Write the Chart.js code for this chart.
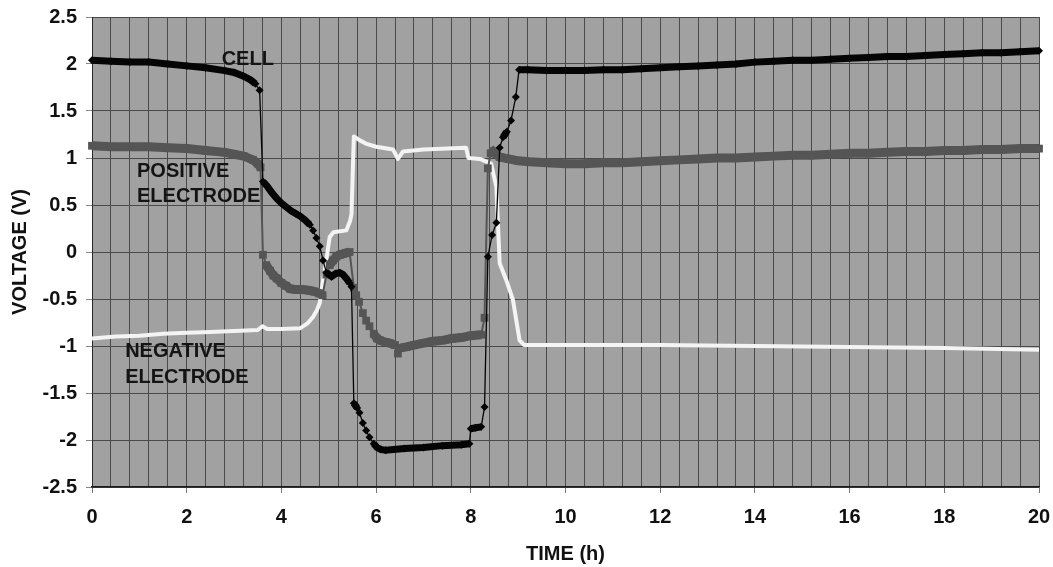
<!DOCTYPE html>
<html>
<head>
<meta charset="utf-8">
<script src="https://cdn.jsdelivr.net/npm/chart.js@4/dist/chart.umd.min.js"></script>
<style>
  body { margin: 0; background: #fff; }
  canvas { display: block; }
</style>
</head>
<body>
<canvas id="voltChart" width="1053" height="567"></canvas>
<script>
// time (h), voltage (V)
var cellData = [
  [0,2.04],[0.4,2.03],[0.8,2.02],[1.2,2.02],[1.6,2.00],[2.0,1.98],[2.4,1.96],[2.8,1.93],
  [3.0,1.91],[3.2,1.87],[3.35,1.83],[3.45,1.79],[3.54,1.72],[3.61,0.75],[3.7,0.70],[3.8,0.63],
  [3.9,0.57],[4.0,0.52],[4.1,0.48],[4.2,0.44],[4.3,0.41],[4.4,0.38],[4.5,0.34],[4.6,0.29],
  [4.67,0.23],[4.74,0.15],[4.81,0.06],[4.88,-0.09],[4.95,-0.22],[5.06,-0.26],[5.15,-0.23],
  [5.23,-0.22],[5.3,-0.24],[5.37,-0.28],[5.44,-0.33],[5.48,-0.37],[5.53,-1.61],[5.6,-1.66],
  [5.65,-1.71],[5.72,-1.82],[5.79,-1.90],[5.86,-1.97],[5.95,-2.04],[6.02,-2.08],[6.1,-2.10],
  [6.2,-2.11],[6.6,-2.09],[7.0,-2.08],[7.4,-2.06],[7.8,-2.05],[7.97,-2.04],[8.0,-1.88],
  [8.1,-1.87],[8.22,-1.86],[8.29,-1.65],[8.36,-0.05],[8.45,0.18],[8.54,0.31],[8.61,1.11],
  [8.68,1.22],[8.76,1.28],[8.85,1.40],[8.95,1.65],[9.02,1.94],[9.2,1.94],[9.6,1.93],[10,1.93],
  [10.4,1.93],[10.8,1.94],[11.2,1.94],[11.6,1.95],[12,1.96],[12.4,1.97],[12.8,1.98],[13.2,1.99],
  [13.6,2.00],[14,2.02],[14.4,2.03],[14.8,2.04],[15.2,2.04],[15.6,2.05],[16,2.06],[16.4,2.07],
  [16.8,2.08],[17.2,2.08],[17.6,2.09],[18,2.10],[18.4,2.11],[18.8,2.12],[19.2,2.12],[19.6,2.13],[20,2.14]
];
var positiveData = [
  [0,1.13],[0.4,1.12],[0.8,1.12],[1.2,1.12],[1.6,1.11],[2.0,1.10],[2.4,1.08],[2.8,1.06],
  [3.0,1.04],[3.2,1.02],[3.4,0.98],[3.5,0.94],[3.56,0.90],[3.61,-0.03],[3.68,-0.14],[3.76,-0.20],
  [3.83,-0.25],[3.9,-0.28],[4.0,-0.33],[4.1,-0.36],[4.18,-0.39],[4.3,-0.40],[4.45,-0.40],
  [4.6,-0.41],[4.7,-0.42],[4.8,-0.44],[4.87,-0.46],[4.95,-0.24],[5.02,-0.14],[5.09,-0.09],
  [5.16,-0.05],[5.23,-0.03],[5.3,-0.02],[5.37,-0.01],[5.44,0.00],[5.53,-0.38],[5.58,-0.46],
  [5.64,-0.53],[5.72,-0.65],[5.79,-0.73],[5.86,-0.79],[5.95,-0.87],[6.02,-0.92],[6.08,-0.94],
  [6.2,-0.96],[6.29,-0.97],[6.4,-0.99],[6.46,-1.08],[6.52,-1.02],[6.64,-1.01],[6.8,-0.99],
  [7.0,-0.97],[7.2,-0.95],[7.4,-0.94],[7.6,-0.92],[7.8,-0.91],[8.0,-0.89],[8.22,-0.88],
  [8.29,-0.70],[8.36,0.89],[8.42,1.05],[8.47,1.07],[8.54,1.04],[8.61,1.01],[8.8,0.99],
  [9.0,0.97],[9.24,0.96],[9.6,0.95],[10,0.94],[10.4,0.94],[10.8,0.95],[11.2,0.95],[11.6,0.96],
  [12,0.97],[12.4,0.98],[12.8,0.99],[13.2,1.00],[13.6,1.00],[14,1.01],[14.4,1.02],[14.8,1.03],
  [15.2,1.03],[15.6,1.04],[16,1.05],[16.4,1.05],[16.8,1.06],[17.2,1.07],[17.6,1.07],[18,1.08],
  [18.4,1.08],[18.8,1.09],[19.2,1.09],[19.6,1.10],[20,1.10]
];
var negativeData = [
  [0,-0.92],[0.5,-0.90],[1,-0.89],[1.5,-0.87],[2,-0.86],[2.5,-0.85],[3,-0.84],[3.5,-0.83],
  [3.6,-0.79],[3.7,-0.82],[4.0,-0.82],[4.4,-0.81],[4.55,-0.76],[4.67,-0.69],[4.75,-0.62],
  [4.81,-0.54],[4.88,-0.30],[4.95,-0.08],[5.02,0.16],[5.1,0.21],[5.37,0.23],[5.45,0.33],
  [5.48,0.40],[5.53,1.23],[5.65,1.19],[5.8,1.15],[6.0,1.12],[6.36,1.09],[6.46,0.99],[6.57,1.07],
  [7.0,1.09],[7.5,1.10],[7.9,1.11],[7.95,1.00],[8.19,0.99],[8.43,0.94],[8.54,0.69],[8.61,-0.12],
  [8.75,-0.30],[8.89,-0.51],[9.03,-0.94],[9.13,-0.99],[10,-0.99],[12,-0.99],[14,-1.00],[16,-1.01],[18,-1.02],[20,-1.04]
];
var xLabelTicks = [0, 2, 4, 6, 8, 10, 12, 14, 16, 18, 20];
var yTicks = [-2.5, -2, -1.5, -1, -0.5, 0, 0.5, 1, 1.5, 2, 2.5];

var FONT = '"Liberation Sans", Arial, sans-serif';

function pts(arr) {
  return arr.map(function(p) { return {x: p[0], y: p[1]}; });
}

// dense markers in the original merge into a thick band where the curve is not steep
function bandWidth(thick, thin) {
  return function(ctx) {
    var dx = Math.abs(ctx.p1.x - ctx.p0.x);
    var dy = Math.abs(ctx.p1.y - ctx.p0.y);
    return dy > 1.5 * dx ? thin : thick;
  };
}

var plotBg = {
  id: 'plotBg',
  beforeDraw: function(chart) {
    var a = chart.chartArea, c = chart.ctx;
    c.save();
    c.fillStyle = '#a1a1a1';
    c.fillRect(a.left, a.top, a.right - a.left, a.bottom - a.top);
    c.restore();
  }
};

var notes = [
  {text: 'CELL', t: 3.29, v: 2.05, align: 'center'},
  {text: 'POSITIVE', t: 0.95, v: 0.86, align: 'left'},
  {text: 'ELECTRODE', t: 0.95, v: 0.59, align: 'left'},
  {text: 'NEGATIVE', t: 0.70, v: -1.06, align: 'left'},
  {text: 'ELECTRODE', t: 0.70, v: -1.33, align: 'left'}
];
var notePlugin = {
  id: 'notes',
  afterDatasetsDraw: function(chart) {
    var c = chart.ctx, xs = chart.scales.x, ys = chart.scales.y;
    c.save();
    c.font = 'bold 20px ' + FONT;
    c.fillStyle = '#141414';
    c.textBaseline = 'middle';
    notes.forEach(function(n) {
      c.textAlign = n.align;
      c.fillText(n.text, xs.getPixelForValue(n.t), ys.getPixelForValue(n.v));
    });
    c.restore();
  }
};

var ctx = document.getElementById('voltChart').getContext('2d');
var chart = new Chart(ctx, {
  type: 'line',
  data: {
    datasets: [{
      label: 'CELL',
      data: pts(cellData),
      borderColor: '#050505',
      backgroundColor: '#050505',
      pointStyle: 'rectRot',
      pointRadius: 4,
      pointBorderWidth: 0,
      borderWidth: 1.3,
      segment: { borderWidth: bandWidth(7, 1.3) },
      tension: 0,
      clip: false
    }, {
      label: 'POSITIVE ELECTRODE',
      data: pts(positiveData),
      borderColor: '#555555',
      backgroundColor: '#555555',
      pointStyle: 'rect',
      pointRadius: 5.5,
      pointBorderWidth: 0,
      borderWidth: 2,
      segment: { borderWidth: bandWidth(9, 2) },
      tension: 0,
      clip: false
    }, {
      label: 'NEGATIVE ELECTRODE',
      data: pts(negativeData),
      borderColor: '#f4f4f4',
      backgroundColor: '#f4f4f4',
      pointRadius: 0,
      borderWidth: 4,
      borderJoinStyle: 'round',
      tension: 0,
      clip: false
    }]
  },
  options: {
    responsive: false,
    animation: false,
    layout: { padding: { left: 0, right: 14, top: 17, bottom: 0 } },
    plugins: { legend: { display: false }, tooltip: { enabled: false } },
    scales: {
      x: {
        type: 'linear',
        min: 0,
        max: 20,
        afterFit: function(s) { s.height = 80; s.paddingLeft = 0; s.paddingRight = 0; },
        ticks: {
          stepSize: 0.4,
          autoSkip: false,
          maxRotation: 0,
          padding: 12,
          color: '#111',
          font: { family: FONT, size: 20, weight: 'bold' },
          callback: function(value) {
            var r = Math.round(value * 10) / 10;
            return xLabelTicks.indexOf(r) >= 0 ? String(r) : '';
          }
        },
        grid: {
          color: '#4a4a4a',
          lineWidth: 1,
          tickLength: 6,
          tickColor: function(c) {
            if (!c.tick) return 'transparent';
            var r = Math.round(c.tick.value * 10) / 10;
            return xLabelTicks.indexOf(r) >= 0 ? '#777' : 'transparent';
          }
        },
        border: { display: true, color: '#1a1a1a', width: 1.5 },
        title: {
          display: true,
          text: 'TIME (h)',
          color: '#111',
          font: { family: FONT, size: 20, weight: 'bold' },
          padding: { top: 0, bottom: 1 }
        }
      },
      y: {
        min: -2.5,
        max: 2.5,
        afterFit: function(s) { s.width = 92; s.paddingTop = 0; s.paddingBottom = 0; },
        afterBuildTicks: function(s) { s.ticks = yTicks.map(function(v) { return {value: v}; }); },
        ticks: {
          padding: 9,
          color: '#111',
          font: { family: FONT, size: 20, weight: 'bold' },
          callback: function(value) { return String(value); }
        },
        grid: { color: '#4a4a4a', lineWidth: 1, tickLength: 6, tickColor: '#888' },
        border: { display: true, color: '#2a2a2a', width: 1 },
        title: {
          display: true,
          text: 'VOLTAGE (V)',
          color: '#111',
          font: { family: FONT, size: 20, weight: 'bold' },
          padding: { top: 8, bottom: 0 }
        }
      }
    }
  },
  plugins: [plotBg, notePlugin]
});
</script>
</body>
</html>
